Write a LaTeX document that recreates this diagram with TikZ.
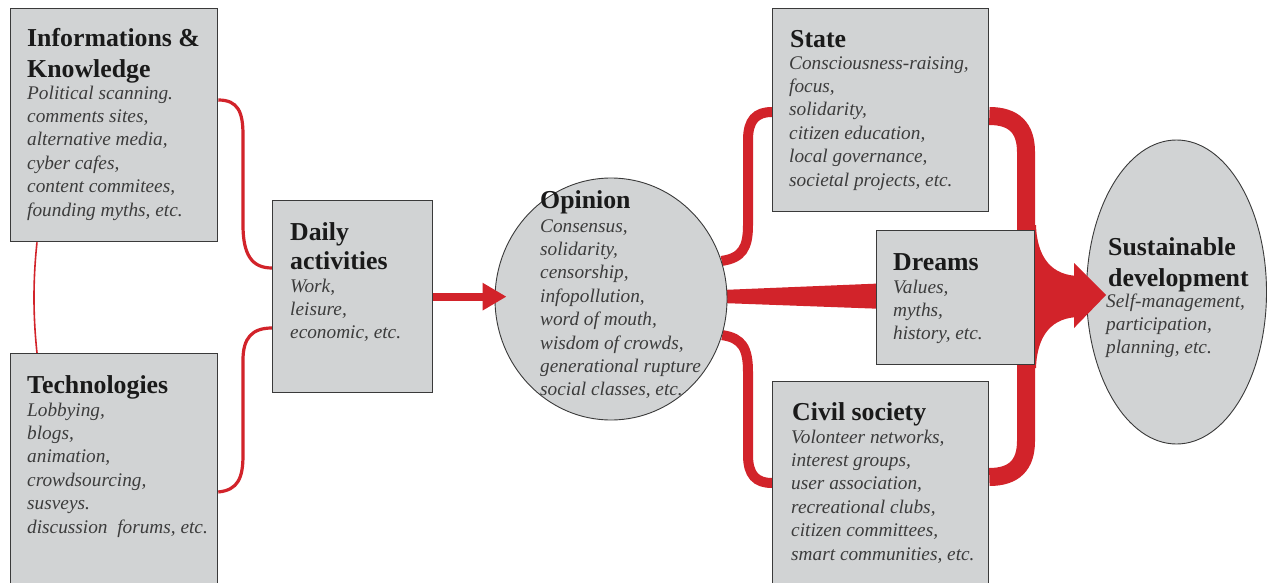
\documentclass[tikz,border=0pt]{standalone}
\usepackage{fontspec}
\setmainfont{Liberation Serif}
\usetikzlibrary{arrows.meta,calc,shapes.geometric}
\pgfdeclarelayer{paper}
\pgfdeclarelayer{back}
\pgfsetlayers{paper,back,main}
\definecolor{boxgray}{HTML}{D1D3D4}
\definecolor{linkred}{HTML}{D2232A}
\definecolor{edgegray}{HTML}{3A3A3A}
\definecolor{titlecol}{HTML}{1A1A1A}
\definecolor{bodycol}{HTML}{3C3C3C}
\tikzset{
  box/.style={draw=edgegray, line width=1.3pt, fill=boxgray, anchor=north west, inner sep=0pt},
  oval/.style={ellipse, draw=edgegray, line width=0.9pt, fill=boxgray, inner sep=0pt},
  ttl/.style={anchor=north west, inner sep=0pt, align=left, text=titlecol, font=\fontsize{25.8}{31}\selectfont\bfseries},
  bdy/.style={anchor=north west, inner sep=0pt, align=left, text=bodycol, font=\fontsize{19.3}{23.4}\selectfont\itshape},
  thinlink/.style={draw=linkred, line width=3.2pt},
  thicklink/.style={draw=linkred, line width=10pt},
  flow/.style={draw=linkred, line width=18pt},
}
\begin{document}
\begin{tikzpicture}[x=1pt, y=-1pt]
\useasboundingbox (0,0) rectangle (1268,583);
\begin{pgfonlayer}{paper}
\fill[white] (0,0) rectangle (1268,583);
\end{pgfonlayer}
\clip (0,0) rectangle (1268,583);

% shapes
\node[box, minimum width=207pt, minimum height=233pt] (info) at (10,8) {};
\node[box, minimum width=207pt, minimum height=247pt] (tech) at (10,353) {};
\node[box, minimum width=160pt, minimum height=192pt] (daily) at (272,200) {};
\node[oval, minimum width=232pt, minimum height=242pt] (opinion) at (611,299) {};
\node[box, minimum width=216pt, minimum height=203pt] (state) at (772,8) {};
\node[box, minimum width=216pt, minimum height=219pt] (civil) at (772,381) {};
\node[box, minimum width=158pt, minimum height=134pt] (dreams) at (876,230) {};
\node[oval, minimum width=180pt, minimum height=304pt] (sd) at (1176.5,292) {};

% connectors behind the shapes
\begin{pgfonlayer}{back}
\draw[thinlink] ($(info.north east)+(0,92)$) .. controls (238,100) and (243,112) .. (243,135) -- (243,225) .. controls (243,255) and (252,268) .. ($(daily.north west)+(0,68)$);
\draw[thinlink] ($(tech.north east)+(0,139)$) .. controls (238,490) and (243,478) .. (243,455) -- (243,360) .. controls (243,338) and (252,328) .. ($(daily.north west)+(0,128)$);
\draw[draw=linkred, line width=1.6pt] ($(info.south west)+(27,0)$) .. controls (33,280) and (33,315) .. ($(tech.north west)+(27,0)$);
\draw[thicklink] (opinion.19) .. controls (742,258) and (748,248) .. (748,225) -- (748,140) .. controls (748,120) and (756,112) .. ($(state.north west)+(0,104)$);
\draw[thicklink] (opinion.-18) .. controls (742,338) and (748,348) .. (748,372) -- (748,455) .. controls (748,475) and (756,483) .. ($(civil.north west)+(0,102)$);
\fill[linkred] ($(opinion.east)+(-6,-9)$) -- ($(dreams.west)+(0,-14)$) -- ($(dreams.west)+(0,11)$) -- ($(opinion.east)+(-6,4)$) -- cycle;
\draw[flow] ($(state.north east)+(0,108)$) .. controls (1014,116) and (1026,128) .. (1026,152) -- (1026,240);
\draw[flow] ($(civil.north east)+(0,96)$) .. controls (1014,477) and (1026,465) .. (1026,441) -- (1026,355);
\fill[linkred] (1017,225) -- (1036,225) .. controls (1037,258) and (1052,276) .. (1080,276) -- (1080,317) .. controls (1052,317) and (1037,335) .. (1036,368) -- (1017,368) -- cycle;
\end{pgfonlayer}

% connectors in front
\draw[draw=linkred, line width=8pt, -{Triangle[length=24pt,width=26pt]}] (daily.east) -- ($(daily.east -| opinion.west)+(12,0)$);
\coordinate (sdtip) at ($(sd.west)+(20,3)$);
\fill[linkred] ($(sdtip)+(-32,-32)$) -- (sdtip) -- ($(sdtip)+(-32,33)$) -- cycle;

% texts
\node[ttl] (infoT) at (27,24.3) {\strut Informations \&\\Knowledge};
\node[bdy] (infoB) at (27,82.6) {\strut Political scanning.\\comments sites,\\alternative media,\\cyber cafes,\\content commitees,\\founding myths, etc.};
\node[ttl] (techT) at (27,371.3) {\strut Technologies};
\node[bdy] (techB) at (27,399.6) {\strut Lobbying,\\blogs,\\animation,\\crowdsourcing,\\susveys.\\discussion\ \ forums, etc.};
\node[ttl] (dailyT) at (290,218.3) {\strut Daily\\[-2pt]activities};
\node[bdy] (dailyB) at (290,275.6) {\strut Work,\\leisure,\\economic, etc.};
\node[ttl] (opinionT) at (540,186.3) {\strut Opinion};
\node[bdy] (opinionB) at (540,215.6) {\strut Consensus,\\solidarity,\\censorship,\\infopollution,\\word of mouth,\\wisdom of crowds,\\generational rupture\\social classes, etc.};
\node[ttl] (stateT) at (790,25.3) {\strut State};
\node[bdy] (stateB) at (789,52.6) {\strut Consciousness-raising,\\focus,\\solidarity,\\citizen education,\\local governance,\\societal projects, etc.};
\node[ttl] (dreamsT) at (893,248.3) {\strut Dreams};
\node[bdy] (dreamsB) at (893,276.6) {\strut Values,\\myths,\\history, etc.};
\node[ttl] (civilT) at (792,398.3) {\strut Civil society};
\node[bdy] (civilB) at (791,426.6) {\strut Volonteer networks,\\interest groups,\\user association,\\recreational clubs,\\citizen committees,\\smart communities, etc.};
\node[ttl] (sdT) at (1108,233.3) {\strut Sustainable\\development};
\node[bdy] (sdB) at (1106,290.6) {\strut Self-management,\\participation,\\planning, etc.};
\end{tikzpicture}
\end{document}
